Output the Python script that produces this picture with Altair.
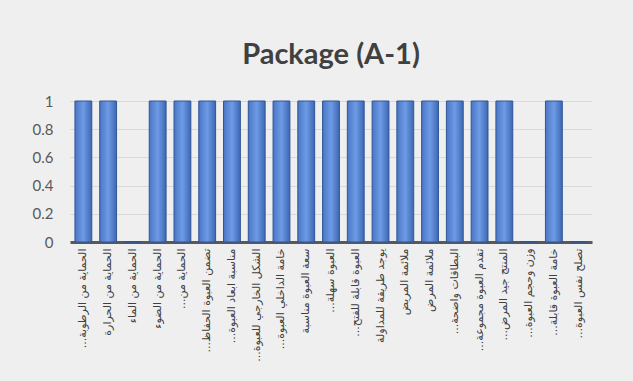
import altair as alt
import pandas as pd

RLM = "\u200F"
categories = [
    "الحماية من الرطوبة...",
    "الحماية من الحرارة",
    "الحماية من الماء",
    "الحماية من الضوء",
    "الحماية من...",
    "تضمن العبوة الحفاظ...",
    "مناسبة ابعاد العبوة...",
    "الشكل الخارجي للعبوة...",
    "خامة الداخلي العبوة...",
    "سعة العبوة مناسبة",
    "العبوة سهلة...",
    "العبوة قابلة للفتح...",
    "يوجد طريقة للمداولة",
    "ملائمة المريض",
    "ملائمة المرض",
    "البطاقات واضحة...",
    "تقدم العبوة مجموعة...",
    "المنتج جيد المرض...",
    "وزن وحجم العبوة...",
    "خامة العبوة قابلة...",
    "تصلح نفس العبوة...",
]
values = [1, 1, 0, 1, 1, 1, 1, 1, 1, 1, 1, 1, 1, 1, 1, 1, 1, 1, 0, 1, 0]
y_ticks = [0, 0.2, 0.4, 0.6, 0.8, 1]

labels = [c + RLM for c in categories]
df = pd.DataFrame({"item": labels, "value": values})

bar_fill = {
    "gradient": "linear",
    "x1": 0, "x2": 1, "y1": 0, "y2": 0,
    "stops": [
        {"offset": 0, "color": "#4a76c4"},
        {"offset": 0.5, "color": "#6e9be6"},
        {"offset": 1, "color": "#3d67b3"},
    ],
}

chart = (
    alt.Chart(df)
    .mark_bar(fill=bar_fill, stroke="#2f5597", strokeWidth=1)
    .encode(
        x=alt.X(
            "item:N",
            sort=labels,
            title=None,
            scale=alt.Scale(paddingInner=0.32, paddingOuter=0.2),
            axis=alt.Axis(
                labelAngle=-90,
                labelFont="DejaVu Sans",
                labelFontSize=11,
                labelColor="#404040",
                labelPadding=6,
                labelLimit=118,
                ticks=False,
                domainColor="#595959",
                domainWidth=3,
            ),
        ),
        y=alt.Y(
            "value:Q",
            title=None,
            scale=alt.Scale(domain=[0, 1]),
            axis=alt.Axis(
                values=y_ticks,
                format="~g",
                labelFont="Lato",
                labelFontSize=15,
                labelColor="#595959",
                labelPadding=17,
                ticks=False,
                domain=False,
                gridColor="#d9d9d9",
                gridWidth=1,
            ),
        ),
    )
    .properties(
        width=522,
        height=141,
        title=alt.TitleParams(
            "Package (A-1)",
            font="Lato",
            fontSize=29,
            fontWeight="bold",
            color="#404040",
            offset=24,
            anchor="middle",
        ),
        autosize=alt.AutoSizeParams(type="none"),
        padding={"left": 70, "top": 101, "right": 41, "bottom": 139},
        background="#efefef",
    )
    .configure_view(stroke=None)
)

chart.save("out.html", embed_options={"renderer": "svg", "actions": False})
